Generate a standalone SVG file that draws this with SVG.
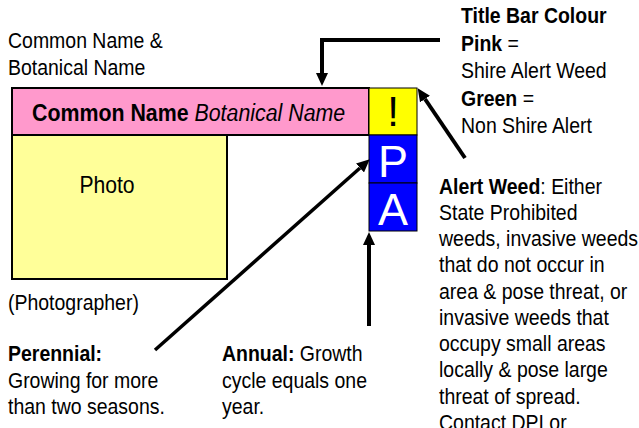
<svg xmlns="http://www.w3.org/2000/svg" width="639" height="428" viewBox="0 0 639 428">
<defs>
<style>
text{font-family:"Liberation Sans",Arial,sans-serif;font-size:22px;fill:#000}
.b{font-weight:bold}
.i{font-style:italic}
.big{font-size:45px;fill:#fff;text-anchor:middle}
.conn{fill:none;stroke:#000;stroke-width:4}
</style>
<marker id="ah" markerUnits="userSpaceOnUse" markerWidth="13" markerHeight="12" refX="0" refY="6" orient="auto">
<path d="M0,0 L13,6 L0,12 z" fill="#000"/>
</marker>
</defs>
<rect width="639" height="428" fill="#fff"/>

<g id="title-bar">
<rect x="12" y="88" width="357" height="47" fill="#FF99CC" stroke="#000" stroke-width="2"/>
<text transform="translate(32,121) scale(0.89,1)" style="font-size:24px"><tspan class="b">Common Name</tspan><tspan class="i"> Botanical Name</tspan></text>
</g>
<g id="alert-box">
<rect x="369" y="88" width="48" height="47" fill="#FFFF00" stroke="#000" stroke-width="1"/>
<text x="393" y="126" style="font-size:42px;text-anchor:middle">!</text>
</g>
<g id="p-box">
<rect x="369" y="135" width="48" height="48" fill="#0000FF" stroke="#000" stroke-width="1"/>
<text class="big" x="393" y="177">P</text>
</g>
<g id="a-box">
<rect x="369" y="183" width="48" height="48" fill="#0000FF" stroke="#000" stroke-width="1"/>
<text class="big" x="393" y="225">A</text>
</g>
<g id="photo">
<rect x="12" y="135" width="215" height="144" fill="#FFFF99" stroke="#000" stroke-width="2"/>
<text transform="translate(107,193) scale(0.9,1)" style="font-size:23.5px;text-anchor:middle">Photo</text>
</g>

<g id="label-names" transform="translate(8,0) scale(0.885,1)">
<text x="0" y="48">Common Name &amp;</text>
<text x="0" y="75">Botanical Name</text>
</g>
<g id="label-photographer" transform="translate(8,0) scale(0.885,1)">
<text x="0" y="310">(Photographer)</text>
</g>
<g id="label-colour" transform="translate(461,0) scale(0.885,1)">
<text x="0" y="23" class="b">Title Bar Colour</text>
<text x="0" y="51"><tspan class="b">Pink</tspan> =</text>
<text x="0" y="78">Shire Alert Weed</text>
<text x="0" y="106"><tspan class="b">Green</tspan> =</text>
<text x="0" y="133">Non Shire Alert</text>
</g>
<g id="label-alert" transform="translate(439,0) scale(0.885,1)">
<text x="0" y="194"><tspan class="b">Alert Weed</tspan>: Either</text>
<text x="0" y="220">State Prohibited</text>
<text x="0" y="246">weeds, invasive weeds</text>
<text x="0" y="272">that do not occur in</text>
<text x="0" y="299">area &amp; pose threat, or</text>
<text x="0" y="325">invasive weeds that</text>
<text x="0" y="351">occupy small areas</text>
<text x="0" y="377">locally &amp; pose large</text>
<text x="0" y="404">threat of spread.</text>
<text x="0" y="430">Contact DPI or</text>
</g>
<g id="label-perennial" transform="translate(8,0) scale(0.885,1)">
<text x="0" y="361" class="b">Perennial:</text>
<text x="0" y="388">Growing for more</text>
<text x="0" y="414">than two seasons.</text>
</g>
<g id="label-annual" transform="translate(222,0) scale(0.885,1)">
<text x="0" y="361"><tspan class="b">Annual:</tspan> Growth</text>
<text x="0" y="388">cycle equals one</text>
<text x="0" y="414">year.</text>
</g>

<g id="connectors">
<polyline class="conn" points="440,40 322,40 322,73" marker-end="url(#ah)"/>
<line class="conn" x1="465" y1="158" x2="425" y2="99" marker-end="url(#ah)"/>
<line class="conn" style="stroke-width:3.5" x1="155" y1="350" x2="360" y2="168" marker-end="url(#ah)"/>
<line class="conn" x1="369" y1="326" x2="369" y2="245" marker-end="url(#ah)"/>
</g>
</svg>
